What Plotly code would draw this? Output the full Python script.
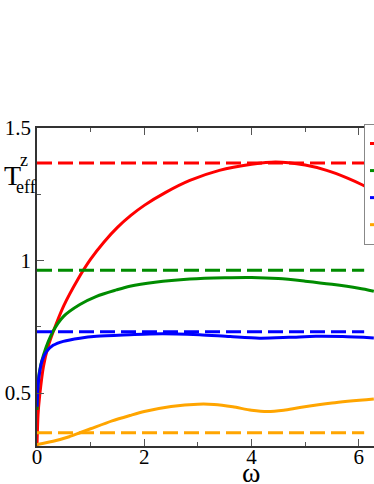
import math
import plotly.graph_objects as go

# solid curves (omega, T_eff^z)
red_w = [0, 0.02, 0.05, 0.12, 0.2, 0.3, 0.5, 0.75, 1.0, 1.25, 1.5, 1.75, 2.0, 2.4, 2.85, 3.4, 4.0, 4.45, 5.0, 5.4, 5.8, 6.07, 6.28]
red_t = [0.30, 0.42, 0.49, 0.60, 0.67, 0.73, 0.83, 0.925, 1.005, 1.07, 1.125, 1.17, 1.208, 1.257, 1.302, 1.34, 1.363, 1.372, 1.36, 1.34, 1.31, 1.285, 1.262]

green_w = [0, 0.02, 0.04, 0.12, 0.3, 0.5, 0.8, 1.11, 1.48, 1.73, 2.2, 2.85, 3.5, 4.0, 4.5, 5.0, 5.5, 6.0, 6.28]
green_t = [0.436, 0.53, 0.575, 0.643, 0.733, 0.79, 0.834, 0.865, 0.889, 0.903, 0.918, 0.93, 0.935, 0.936, 0.932, 0.922, 0.91, 0.895, 0.884]

blue_w = [0, 0.02, 0.056, 0.1, 0.18, 0.3, 0.49, 0.8, 1.11, 1.73, 2.1, 2.6, 3.03, 3.6, 4.15, 4.7, 5.2, 5.7, 6.28]
blue_t = [0.448, 0.53, 0.587, 0.625, 0.657, 0.68, 0.695, 0.707, 0.714, 0.72, 0.723, 0.723, 0.72, 0.713, 0.707, 0.71, 0.714, 0.713, 0.708]

orange_w = [0, 0.3, 0.6, 0.8, 1.0, 1.4, 1.73, 2.0, 2.5, 3.0, 3.3, 3.65, 4.0, 4.3, 4.6, 4.9, 5.5, 6.28]
orange_t = [0.306, 0.318, 0.335, 0.35, 0.365, 0.395, 0.415, 0.43, 0.449, 0.458, 0.457, 0.448, 0.435, 0.43, 0.435, 0.445, 0.462, 0.477]

# dashed reference levels
dash_w = [0, 6.1]
levels = [1.368, 0.963, 0.731, 0.35]

names = ["J = 0.1", "J = 0.2", "J = 0.5", "J = 1"]
colours = ["#ff0000", "#008c00", "#0000ff", "#ffa500"]

W, H = 374, 484
L, R, T, B = 37, 374, 128, 446


def px(x, y):
    # pixel position -> paper coordinates
    return (x - L) / (R - L), (B - y) / (B - T)


fig = go.Figure()

curves = [(red_w, red_t), (green_w, green_t), (blue_w, blue_t), (orange_w, orange_t)]
for (w, t), lev, name, col in zip(curves, levels, names, colours):
    fig.add_trace(go.Scatter(x=dash_w, y=[lev, lev], mode="lines", showlegend=False,
                             line=dict(color=col, width=3, dash="15px,6px")))
    fig.add_trace(go.Scatter(x=w, y=t, mode="lines", name=name,
                             line=dict(color=col, width=3, shape="spline", smoothing=0.8)))

serif = "Liberation Serif, Times New Roman, DejaVu Serif, serif"
axis_common = dict(showgrid=False, zeroline=False, showline=True, linecolor="#333333",
                   linewidth=1.5, ticks="inside", ticklen=7, tickcolor="#555555",
                   tickfont=dict(family=serif, size=21, color="black"))

fig.update_layout(
    width=W, height=H,
    margin=dict(l=L, r=W - R, t=T, b=H - B, autoexpand=False),
    plot_bgcolor="white", paper_bgcolor="white",
    xaxis=dict(range=[0, 2 * math.pi], dtick=2, tick0=0, mirror="ticks",
               ticklabelstandoff=-9,
               minor=dict(dtick=1, ticks="inside", ticklen=4, tickcolor="#555555"),
               **axis_common),
    yaxis=dict(range=[0.3, 1.5], dtick=0.5, tick0=0,
               minor=dict(dtick=0.25, ticks="inside", ticklen=4, tickcolor="#555555"),
               **axis_common),
    legend=dict(x=px(364, 0)[0], y=px(0, T - 4)[1], xanchor="left", yanchor="top",
                bgcolor="white", bordercolor="#888888", borderwidth=1,
                font=dict(family=serif, size=18.5, color="black")),
)

labels = [("T", 12, 175, 28), ("z", 24, 160, 18), ("eff", 26, 187, 18), ("ω", 251, 472, 28)]
for text, x, y, size in labels:
    ax, ay = px(x, y)
    fig.add_annotation(text=text, x=ax, y=ay, xref="paper", yref="paper",
                       showarrow=False, xanchor="center", yanchor="middle",
                       font=dict(family=serif, size=size, color="black"))

# drop the default 8px body margin so the figure sits at the window corner
fig.write_html("out.html", post_script="document.body.style.margin='0';",
               config={"displayModeBar": False})
